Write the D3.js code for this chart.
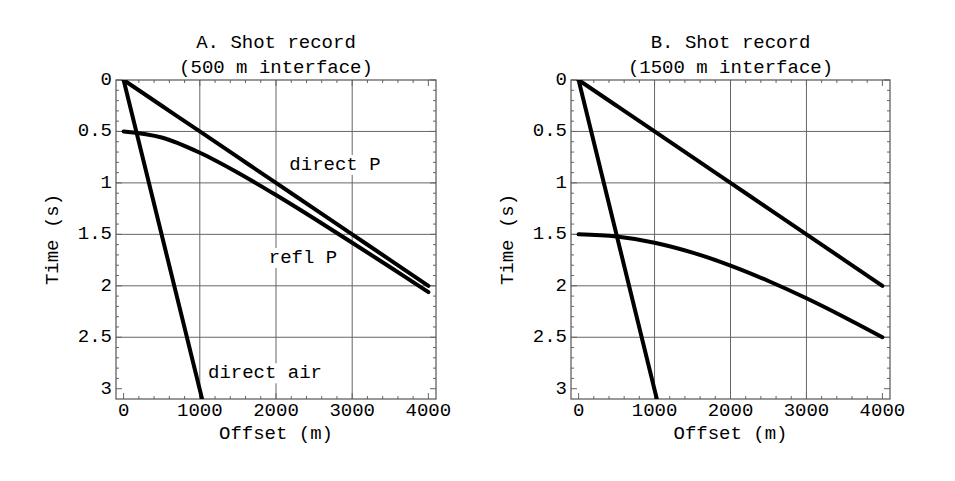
<!DOCTYPE html>
<html><head><meta charset="utf-8">
<script src="https://cdn.jsdelivr.net/npm/d3@7"></script>
<style>body{margin:0;background:#fff;} text{font-family:"Liberation Mono","Courier New",monospace;fill:#000;}</style>
</head><body>
<svg id="c" width="955" height="481"></svg>
<script>
// ---- data ----
const offsets = [0,500,1000,1500,2000,2500,3000,3500,4000];
const directP = [0,0.25,0.5,0.75,1.0,1.25,1.5,1.75,2.0];
const reflA = [0.5,0.559,0.707,0.901,1.118,1.346,1.581,1.820,2.062];
const reflB = [1.5,1.521,1.581,1.677,1.803,1.953,2.121,2.305,2.5];
const airOffsets = [0,1030];
const airTimes = [0,3.1];
const xTicks = [0,1000,2000,3000,4000];
const yTicks = [0,0.5,1,1.5,2,2.5,3];
const yTickLabels = ["0","0.5","1","1.5","2","2.5","3"];
const titlesA = ["A. Shot record","(500 m interface)"];
const titlesB = ["B. Shot record","(1500 m interface)"];

const svg = d3.select("#c");
const FS = 19;

function panel(x0, x1, titles, refl, labels){
  const y0 = 80, y1 = 399;
  const x = d3.scaleLinear().domain([-100,4100]).range([x0,x1]);
  const y = d3.scaleLinear().domain([0,3.1]).range([y0,y1]);
  const g = svg.append("g");
  // grid
  g.selectAll(".gx").data([1000,2000,3000]).enter().append("line")
    .attr("x1",d=>x(d)).attr("x2",d=>x(d)).attr("y1",y0).attr("y2",y1)
    .attr("stroke","#666").attr("stroke-width",1);
  g.selectAll(".gy").data([0.5,1,1.5,2,2.5]).enter().append("line")
    .attr("y1",d=>y(d)).attr("y2",d=>y(d)).attr("x1",x0).attr("x2",x1)
    .attr("stroke","#666").attr("stroke-width",1);
  // ticks (inward)
  const xminor = d3.range(0,4001,200), yminor = d3.range(0,3.05,0.1);
  xminor.forEach(v=>{
    const L = (v%1000===0)?6:3;
    g.append("line").attr("x1",x(v)).attr("x2",x(v)).attr("y1",y1).attr("y2",y1-L).attr("stroke","#666");
    g.append("line").attr("x1",x(v)).attr("x2",x(v)).attr("y1",y0).attr("y2",y0+L).attr("stroke","#666");
  });
  yminor.forEach(v=>{
    const L = (Math.abs(v*2-Math.round(v*2))<1e-6)?6:3;
    g.append("line").attr("y1",y(v)).attr("y2",y(v)).attr("x1",x0).attr("x2",x0+L).attr("stroke","#666");
    g.append("line").attr("y1",y(v)).attr("y2",y(v)).attr("x1",x1).attr("x2",x1-L).attr("stroke","#666");
  });
  // frame
  g.append("rect").attr("x",x0).attr("y",y0).attr("width",x1-x0).attr("height",y1-y0)
    .attr("fill","none").attr("stroke","#555").attr("stroke-width",1.2);
  // clip
  const cid = "clip"+x0;
  svg.append("clipPath").attr("id",cid).append("rect").attr("x",x0).attr("y",y0).attr("width",x1-x0).attr("height",y1-y0);
  const lg = g.append("g").attr("clip-path","url(#"+cid+")");
  const line = d3.line().x(d=>x(d[0])).y(d=>y(d[1])).curve(d3.curveCatmullRom);
  const sw = 4;
  lg.append("path").datum(offsets.map((o,i)=>[o,directP[i]])).attr("d",line)
    .attr("fill","none").attr("stroke","#000").attr("stroke-width",sw).attr("stroke-linecap","round");
  lg.append("path").datum(offsets.map((o,i)=>[o,refl[i]])).attr("d",line)
    .attr("fill","none").attr("stroke","#000").attr("stroke-width",sw).attr("stroke-linecap","round");
  lg.append("path").datum(airOffsets.map((o,i)=>[o,airTimes[i]])).attr("d",line)
    .attr("fill","none").attr("stroke","#000").attr("stroke-width",sw).attr("stroke-linecap","round");
  // labels on plot
  labels.forEach(l=>{
    const t = g.append("text").attr("x",x(l.x)).attr("y",y(l.y)).attr("text-anchor","middle")
      .attr("dominant-baseline","central").attr("font-size",FS).text(l.text);
    const bb = t.node().getBBox();
    g.insert("rect", function(){return t.node();}).attr("x",bb.x-2).attr("y",bb.y+1).attr("width",bb.width+4).attr("height",bb.height-2).attr("fill","#fff");
  });
  // tick labels
  xTicks.forEach(v=>{
    g.append("text").attr("x",x(v)).attr("y",y1+17).attr("text-anchor","middle").attr("font-size",FS).text(v);
  });
  yTicks.forEach((v,i)=>{
    g.append("text").attr("x",x0-4).attr("y",y(v)).attr("text-anchor","end").attr("dominant-baseline","central").attr("font-size",FS).text(yTickLabels[i]);
  });
  // axis titles
  const cx = (x0+x1)/2;
  g.append("text").attr("x",cx).attr("y",439).attr("text-anchor","middle").attr("font-size",FS).text("Offset (m)");
  g.append("text").attr("transform","translate("+(x0-63)+","+((y0+y1)/2)+") rotate(-90)")
    .attr("text-anchor","middle").attr("dominant-baseline","central").attr("font-size",FS).text("Time (s)");
  g.append("text").attr("x",cx).attr("y",48).attr("text-anchor","middle").attr("font-size",FS).text(titles[0]);
  g.append("text").attr("x",cx).attr("y",73).attr("text-anchor","middle").attr("font-size",FS).text(titles[1]);
}

panel(116,436,titlesA,reflA,[
  {x:2774,y:0.826,text:"direct P"},
  {x:2354,y:1.73,text:"refl P"},
  {x:1856,y:2.85,text:"direct air"}
]);
panel(571,890,titlesB,reflB,[]);
</script>
</body></html>
